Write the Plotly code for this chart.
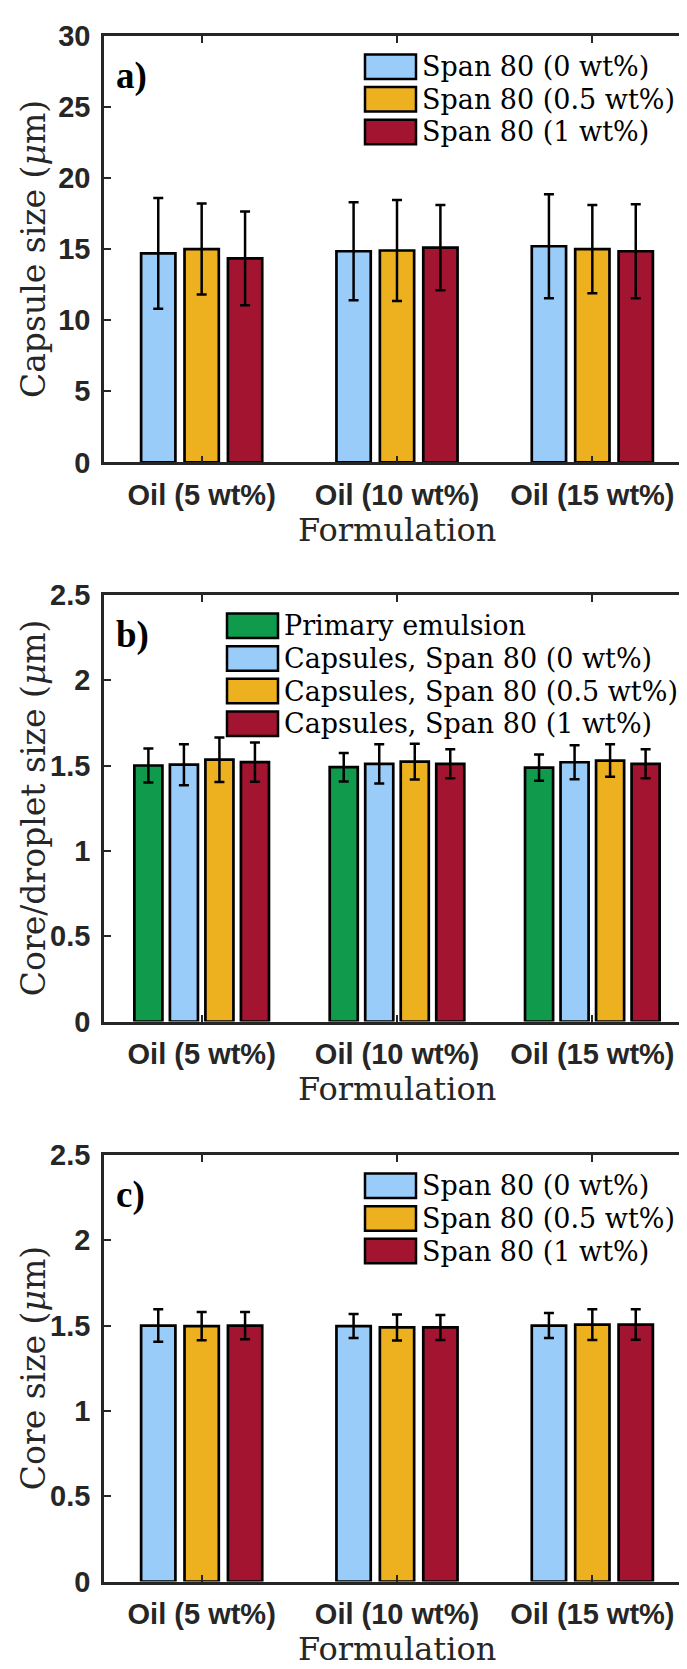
import plotly.graph_objects as go

# ---- data ----
formulations = ['Oil (5 wt%)', 'Oil (10 wt%)', 'Oil (15 wt%)']

# a) capsule size (um)
names_a = ['Span 80 (0 wt%)', 'Span 80 (0.5 wt%)', 'Span 80 (1 wt%)']
cap_0 = [14.7, 14.85, 15.2]
cap_05 = [15.0, 14.9, 15.0]
cap_1 = [14.35, 15.1, 14.85]
cap_0_err = [3.9, 3.45, 3.65]
cap_05_err = [3.2, 3.55, 3.1]
cap_1_err = [3.3, 3.0, 3.3]

# b) core / droplet size (um)
names_b = ['Primary emulsion', 'Capsules, Span 80 (0 wt%)',
           'Capsules, Span 80 (0.5 wt%)', 'Capsules, Span 80 (1 wt%)']
drop_pe = [1.50, 1.49, 1.487]
drop_0 = [1.505, 1.51, 1.519]
drop_05 = [1.534, 1.523, 1.529]
drop_1 = [1.52, 1.51, 1.51]
drop_pe_err = [0.10, 0.083, 0.077]
drop_0_err = [0.12, 0.115, 0.10]
drop_05_err = [0.13, 0.105, 0.095]
drop_1_err = [0.115, 0.085, 0.085]

# c) core size (um)
names_c = ['Span 80 (0 wt%)', 'Span 80 (0.5 wt%)', 'Span 80 (1 wt%)']
core_0 = [1.50, 1.497, 1.50]
core_05 = [1.497, 1.489, 1.506]
core_1 = [1.50, 1.489, 1.506]
core_0_err = [0.095, 0.07, 0.073]
core_05_err = [0.083, 0.076, 0.09]
core_1_err = [0.08, 0.073, 0.089]

# ---- styling ----
W, H = 687, 1669
X0, X1 = 96, 682
GREEN = '#0F9A4C'
BLUE = '#99CCF9'
YELLOW = '#EDB120'
RED = '#A2142F'
AX = '#262626'

panels = [
    dict(top=12, bottom=447, label='a)', ytitle='Capsule size (<i>μ</i>m)',
         yrange=[0, 30], dtick=5, legx=357, names=names_a,
         vals=[cap_0, cap_05, cap_1], errs=[cap_0_err, cap_05_err, cap_1_err],
         colors=[BLUE, YELLOW, RED]),
    dict(top=582, bottom=1017, label='b)', ytitle='Core/droplet size (<i>μ</i>m)',
         yrange=[0, 2.5], dtick=0.5, legx=219, names=names_b,
         vals=[drop_pe, drop_0, drop_05, drop_1],
         errs=[drop_pe_err, drop_0_err, drop_05_err, drop_1_err],
         colors=[GREEN, BLUE, YELLOW, RED]),
    dict(top=1153, bottom=1588, label='c)', ytitle='Core size (<i>μ</i>m)',
         yrange=[0, 2.5], dtick=0.5, legx=357, names=names_c,
         vals=[core_0, core_05, core_1], errs=[core_0_err, core_05_err, core_1_err],
         colors=[BLUE, YELLOW, RED]),
]

def py(px):
    return 1 - px / H

def pxx(px):
    return px / W

fig = go.Figure()
shapes = []
annotations = []

for k, p in enumerate(panels):
    n = len(p['vals'])
    sfx = '' if k == 0 else str(k + 1)
    # matlab-like grouped bars
    group = min(0.8, n / (n + 1.5))
    slot = group / n
    barw = slot * 0.79
    for i in range(n):
        off = -group / 2 + i * slot + (slot - barw) / 2
        fig.add_trace(go.Bar(
            x=formulations, y=p['vals'][i], name=p['names'][i],
            width=barw, offset=off,
            marker=dict(color=p['colors'][i], line=dict(color='black', width=2.7)),
            error_y=dict(type='data', array=p['errs'][i], color='black',
                         thickness=2.5, width=5),
            xaxis='x' + sfx, yaxis='y' + sfx, showlegend=False,
        ))

    dom = [py(p['bottom']), py(p['top'])]
    axis_common = dict(showline=True, linecolor=AX, linewidth=2.5, mirror='ticks',
                       ticks='inside', ticklen=7, tickwidth=2, tickcolor=AX,
                       showgrid=False, zeroline=False,
                       tickfont=dict(family='Liberation Sans', size=29, color=AX,
                                     weight='bold'))
    fig.update_layout(**{
        'xaxis' + sfx: dict(domain=[pxx(X0), pxx(X1)], anchor='y' + sfx,
                            type='category', range=[-0.5, 2.5],
                            ticklabelstandoff=5, **axis_common),
        'yaxis' + sfx: dict(domain=dom, anchor='x' + sfx, range=p['yrange'],
                            dtick=p['dtick'], ticklabelstandoff=5, **axis_common),
    })

    # panel label
    annotations.append(dict(x=pxx(106), y=py(p['top'] + 41), xref='paper', yref='paper',
                            text='<b>' + p['label'] + '</b>', showarrow=False,
                            xanchor='left', yanchor='middle',
                            font=dict(family='Liberation Serif', size=37, color='black')))
    # axis titles
    annotations.append(dict(x=pxx(25), y=py((p['top'] + p['bottom']) / 2),
                            xref='paper', yref='paper', text=p['ytitle'],
                            textangle=-90, showarrow=False,
                            xanchor='center', yanchor='middle',
                            font=dict(family='DejaVu Serif', size=33, color=AX)))
    annotations.append(dict(x=pxx((X0 + X1) / 2), y=py(p['bottom'] + 69),
                            xref='paper', yref='paper', text='Formulation',
                            showarrow=False, xanchor='center', yanchor='middle',
                            font=dict(family='DejaVu Serif', size=32, color=AX)))
    # legend (large matlab-style swatches)
    for i in range(n):
        yc = p['top'] + 31.5 + i * 33.3
        shapes.append(dict(type='rect', xref='paper', yref='paper',
                           x0=pxx(p['legx']), x1=pxx(p['legx'] + 51),
                           y0=py(yc + 12.5), y1=py(yc - 12.5),
                           fillcolor=p['colors'][i], line=dict(color='black', width=2.5)))
        annotations.append(dict(x=pxx(p['legx'] + 55), y=py(yc), xref='paper', yref='paper',
                                text=p['names'][i], showarrow=False,
                                xanchor='left', yanchor='middle',
                                font=dict(family='DejaVu Serif', size=27, color='black')))

fig.update_layout(
    width=W, height=H, autosize=False,
    margin=dict(l=0, r=0, t=0, b=0),
    barmode='overlay',
    paper_bgcolor='white', plot_bgcolor='white',
    shapes=shapes, annotations=annotations,
)

fig.write_html("out.html")
